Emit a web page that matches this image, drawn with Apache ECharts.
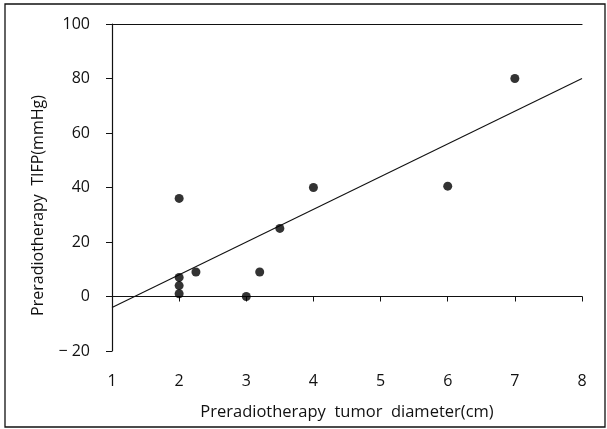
<!DOCTYPE html>
<html>
<head>
<meta charset="utf-8">
<script src="https://cdn.jsdelivr.net/npm/echarts@6/dist/echarts.min.js"></script>
<style>html,body{margin:0;padding:0;background:#fff;}#c{width:607px;height:429px;}</style>
</head>
<body>
<div id="c"></div>
<script>
var diameter = [2, 2, 2, 2, 2.25, 3, 3.2, 3.5, 4, 6, 7];
var tifp = [36, 7, 4, 1, 9, 0, 9, 25, 40, 40.5, 80];
var fitX = [1, 8];
var fitY = [-4, 80];
var xTicks = [1, 2, 3, 4, 5, 6, 7, 8];
var yTicks = [-20, 0, 20, 40, 60, 80, 100];
var xTitle = 'Preradiotherapy  tumor  diameter(cm)';
var yTitle = 'Preradiotherapy  TIFP(mmHg)';

var pts = diameter.map(function (d, i) { return [d, tifp[i]]; });
var fit = fitX.map(function (d, i) { return [d, fitY[i]]; });
var FONT = '"Open Sans", sans-serif';

var chart = echarts.init(document.getElementById('c'), null, {renderer: 'canvas'});
chart.setOption({
  animation: false,
  backgroundColor: '#fff',
  grid: {left: 112, right: 25, top: 24, bottom: 78, containLabel: false},
  graphic: [{
    type: 'rect', shape: {x: 5, y: 4, width: 600, height: 423},
    style: {fill: 'none', stroke: '#111', lineWidth: 1.3}, silent: true
  }],
  xAxis: [{
    type: 'value', min: xTicks[0], max: xTicks[xTicks.length - 1], interval: 1,
    name: xTitle, nameLocation: 'middle', nameGap: 53,
    nameTextStyle: {fontFamily: FONT, fontSize: 16.5, color: '#111'},
    axisLine: {show: true, lineStyle: {color: '#111', width: 1.2}},
    axisTick: {show: true, length: 5, lineStyle: {color: '#111'}},
    axisLabel: {fontFamily: FONT, fontSize: 16, color: '#111', margin: 22},
    splitLine: {show: false}
  }, {
    type: 'value', position: 'top', min: xTicks[0], max: xTicks[xTicks.length - 1], interval: 1,
    axisLine: {show: true, lineStyle: {color: '#111', width: 1.2}},
    axisTick: {show: false}, axisLabel: {show: false}, splitLine: {show: false}
  }],
  yAxis: {
    type: 'value', min: yTicks[0], max: yTicks[yTicks.length - 1], interval: 20,
    name: yTitle, nameLocation: 'middle', nameGap: 66,
    nameTextStyle: {fontFamily: FONT, fontSize: 16, color: '#111', padding: [0, 36, 0, 0]},
    axisLine: {show: true, lineStyle: {color: '#111', width: 1.2}},
    axisTick: {show: true, length: 6, lineStyle: {color: '#111'}},
    axisLabel: {fontFamily: FONT, fontSize: 16, color: '#111', margin: 22,
      formatter: function (v) { return v < 0 ? '\u2212 ' + Math.abs(v) : String(v); }},
    splitLine: {show: false}
  },
  series: [{
    type: 'line', data: fit, showSymbol: false, symbol: 'none',
    lineStyle: {color: '#111', width: 1.1}, z: 2
  }, {
    type: 'scatter', data: pts, symbol: 'circle', symbolSize: 9,
    itemStyle: {color: '#000'}, z: 3
  }]
});
</script>
</body>
</html>
